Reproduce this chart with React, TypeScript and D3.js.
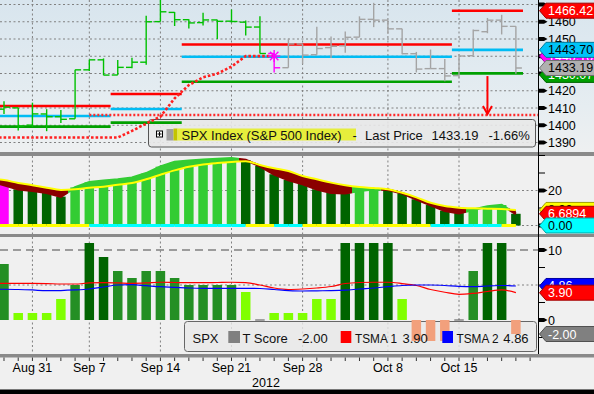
import React from "react";
import * as d3 from "d3";

// ---------------- data ----------------
const dates = ["Aug 28","Aug 29","Aug 30","Aug 31","Sep 4","Sep 5","Sep 6","Sep 7","Sep 10","Sep 11","Sep 12","Sep 13","Sep 14","Sep 17","Sep 18","Sep 19","Sep 20","Sep 21","Sep 24","Sep 25","Sep 26","Sep 27","Sep 28","Oct 1","Oct 2","Oct 3","Oct 4","Oct 5","Oct 8","Oct 9","Oct 10","Oct 11","Oct 12","Oct 15","Oct 16","Oct 17","Oct 18","Oct 19"];
const axisDays = [...dates, "Oct 22"];
const dateLabels = ["Aug 31","Sep 7","Sep 14","Sep 21","Sep 28","Oct 8","Oct 15"];
const yearLabel = "2012";

const priceOpen = [1410.44,1409.32,1410.08,1400.07,1406.54,1404.94,1403.74,1432.12,1437.92,1429.13,1433.56,1436.56,1460.07,1465.42,1461.19,1459.50,1461.05,1460.34,1459.76,1456.94,1441.60,1433.36,1447.13,1440.90,1444.99,1446.05,1451.08,1461.40,1460.93,1455.90,1441.48,1432.82,1432.84,1428.75,1440.31,1454.22,1460.94,1457.34];
const priceHigh = [1416.17,1413.95,1410.08,1413.09,1409.31,1408.81,1432.12,1437.92,1438.74,1437.76,1439.15,1463.46,1474.51,1465.63,1461.47,1465.15,1461.23,1467.07,1460.72,1463.24,1441.60,1450.20,1447.13,1457.14,1451.52,1454.30,1463.14,1470.96,1460.93,1455.90,1442.52,1443.90,1438.43,1441.31,1455.51,1462.20,1464.02,1457.34];
const priceLow = [1409.11,1406.57,1397.01,1398.96,1396.56,1401.25,1403.74,1431.45,1428.98,1429.13,1432.99,1435.13,1460.07,1457.55,1456.13,1457.88,1449.98,1459.51,1452.06,1441.59,1430.53,1433.36,1435.60,1440.90,1439.01,1441.99,1451.08,1456.89,1453.10,1441.18,1430.64,1432.82,1425.53,1427.24,1440.31,1453.35,1452.63,1429.85];
const priceClose = [1409.30,1410.49,1399.48,1406.58,1404.94,1403.44,1432.12,1437.92,1429.08,1433.56,1436.56,1459.99,1465.77,1461.19,1459.32,1461.05,1460.26,1460.15,1456.89,1441.59,1433.32,1447.15,1440.67,1444.49,1445.75,1450.99,1461.40,1460.93,1455.88,1441.48,1432.56,1432.84,1428.59,1440.13,1454.92,1460.91,1457.34,1433.19];

const levelFrom = ["Aug 28","Sep 11","Sep 18","Oct 15"];
const levelTo = ["Sep 10","Sep 17","Oct 12","Oct 19"];
const levelResistance = [1411.2, 1418.1, 1446.8, 1466.42];
const levelPivot = [1405.4, 1409.4, 1439.7, 1443.70];
const levelSupport = [1399.2, 1401.5, 1425.2, 1430.07];

const stopDates = dates.slice(0, 21);
const stopValues = [1392.9,1392.9,1392.9,1392.9,1392.9,1392.9,1392.9,1392.9,1392.9,1392.9,1396.7,1401.0,1405.0,1415.6,1423.3,1427.8,1429.9,1434.0,1440.1,1440.1,1440.1];
const breakLevel = 1405.9;
const breakFrom = "Sep 7";
const arrowDate = "Oct 17";
const arrowTop = 1428.5;
const signalDate = "Sep 26";
const signalValue = 1440.1;
const priceTicks = [1390,1400,1410,1420,1430,1440,1450,1460,1470];
const priceTickLabels = [1390,1400,1410,1420,1450,1460];

const adx = [25.5,23.1,20.7,19.9,18.7,16.5,21.8,24.7,25.6,26.2,27.3,29.8,33.6,36.3,37.0,37.6,38.0,38.4,37.4,34.0,29.3,26.0,23.7,20.7,18.7,18.4,19.9,20.7,20.4,18.4,15.0,11.7,8.5,7.1,9.0,10.8,11.7,6.6894];
const adxSignal = [27.0,26.0,24.3,23.0,21.6,20.3,20.7,21.6,22.2,23.3,24.3,26.4,29.0,31.5,33.6,34.9,35.7,36.3,36.7,34.6,32.7,31.1,28.3,26.4,24.5,23.0,22.0,21.4,20.7,18.7,16.1,13.0,11.1,10.2,9.8,9.6,9.4,8.9];
const diState = [0,0,0,0,0,0,0,0,1,1,1,1,1,1,1,1,1,1,1,0,0,1,1,0,0,0,0,0,0,0,0,0,1,1,1,1,1,0];
const highlightDay = "Aug 29";
const adxMajorTicks = [0, 20];
const adxTickLabels = [20];
const adxMinorTicks = [10, 30, 40];

const tScore = [8,8,1,1,1,3,5,11,9,7,6,7,7,6,5,5,5,5,4,0,1,1,1,3,3,11,11,11,11,3,-3,-3,-3,0,7,11,11,-2];
const tsma1 = [5.24,5.24,5.24,5.24,5.21,5.14,5.14,5.29,5.33,5.29,5.24,5.29,5.39,5.36,5.33,5.33,5.36,5.39,5.33,5.0,4.57,4.36,4.43,4.57,4.79,5.21,5.36,5.39,5.39,5.21,4.93,4.36,3.96,3.67,3.81,4.07,4.29,3.90];
const tsma2 = [4.40,4.39,4.36,4.29,4.19,4.21,4.29,4.43,4.71,5.0,5.04,4.9,4.76,4.67,4.57,4.53,4.53,4.53,4.53,4.5,4.36,4.21,4.14,4.17,4.19,4.26,4.43,4.57,4.76,4.93,5.0,5.0,4.93,4.79,4.76,4.86,4.93,4.86];
const tMajorTicks = [0, 10];
const tMinorTicks = [-2.5, 2.5, 5, 7.5];

// ---------------- styles ----------------
const FONT = "'Liberation Sans', Arial, sans-serif";
const C = {
  barGreen: "#00c000", barGray: "#a4a4a4", magenta: "#ff00ff",
  red: "#ff0000", cyan: "#00bcf4", lvlGreen: "#00a000",
  darkGreen: "#006400", lightGreen: "#33cc33", darkRed: "#8b0000",
  yellow: "#ffff00", aqua: "#00ffff",
  lime: "#80ff00", midGreen: "#248f24", salmon: "#f2a07c",
  grid: "#808080", panel: "#f0f0f0", sep: "#8a8a8a",
};

const f2 = (v: number) => v.toFixed(2);

function Tag({ y, fill, text, color }: { y: number; fill: string; text: string; color: string }) {
  const h = 15;
  const d = `M539.5,${y} L546,${y - h / 2} L600,${y - h / 2} L600,${y + h / 2} L546,${y + h / 2} Z`;
  const stroke = (d3.color(fill) as d3.RGBColor).darker(1.3).formatHex();
  return (
    <g>
      <path d={d} fill={fill} stroke={stroke} strokeWidth={1} />
      <text x={548} y={y} dy="0.36em" fill={color} fontSize={12.5} fontFamily={FONT}>{text}</text>
    </g>
  );
}

function MajorTick({ y }: { y: number }) {
  return <path d={`M539,${y - 2} L544,${y - 2} L547.5,${y} L544,${y + 2} L539,${y + 2} Z`} fill="#000" />;
}
function MinorTick({ y }: { y: number }) {
  return <line x1={539} x2={545} y1={y} y2={y} stroke="#000" strokeWidth={1} />;
}

export default function App() {
  const W = 594, H = 394, R = 538.5;
  const P1 = [0, 152], P2 = [156, 234], P3 = [237, 354];

  const x = d3.scalePoint<string>().domain(axisDays).range([-10.22, 530.1]);
  const step = x.step();
  const xi = (i: number) => x(dates[i]) as number;
  const n = dates.length;

  const yP = d3.scaleLinear().domain([1390, 1470]).range([142.5, 4.5]);
  const yA = d3.scaleLinear().domain([0, 20]).range([225.5, 190.5]);
  const yT = d3.scaleLinear().domain([0, 10]).range([320, 250]);

  const gridX = dateLabels.map((d) => x(d) as number);
  const flipIdx = dates.indexOf(signalDate);
  const priceColor = (i: number) => (i < flipIdx ? C.barGreen : i === flipIdx ? C.magenta : C.barGray);

  const stopLine = d3.line<number>().x((_, i) => x(stopDates[i]) as number).y((v) => yP(v))(stopValues) || "";

  // panel 2
  const rising = adx.map((v, i) => i > 0 && v > adx[i - 1]);
  const bandCols = rising.map((r) => (r ? C.lightGreen : C.darkRed));
  const stops: { o: number; c: string }[] = [{ o: 0, c: bandCols[0] }];
  let cur = bandCols[0];
  for (let i = 1; i < n; i++) {
    if (bandCols[i] !== cur) {
      const p = Math.max(0, Math.min(1, (xi(i) - step / 2) / R));
      stops.push({ o: p, c: cur });
      stops.push({ o: p, c: bandCols[i] });
      cur = bandCols[i];
    }
  }
  stops.push({ o: 1, c: cur });
  const idx = d3.range(n);
  const bandArea = d3.area<number>().x((i) => xi(i)).y0((i) => yA(adxSignal[i])).y1((i) => yA(adx[i]))(idx) || "";
  const adxLine = d3.line<number>().x((i) => xi(i)).y((i) => yA(adx[i]))(idx) || "";
  const sigLine = d3.line<number>().x((i) => xi(i)).y((i) => yA(adxSignal[i])).curve(d3.curveMonotoneX)(idx) || "";
  const hiIdx = dates.indexOf(highlightDay);

  // panel 3
  const tColor = (v: number) => (v < 0 ? C.salmon : v <= 4 ? C.lime : v <= 8 ? C.midGreen : C.darkGreen);
  const tsmaLine = (arr: number[]) => d3.line<number>().x((i) => xi(i)).y((i) => yT(arr[i])).curve(d3.curveMonotoneX)(idx) || "";

  const bw = 9.5;
  const last = n - 1;
  const chg = (priceClose[last] / priceClose[last - 1] - 1) * 100;

  const hGrid = (ys: number[], key: string) =>
    ys.map((y, k) => <line key={key + k} x1={0} x2={R} y1={y} y2={y} stroke={C.grid} strokeWidth={1} strokeDasharray="2,2.5" />);
  const vGrid = (y0: number, y1: number, key: string) =>
    gridX.map((gx, k) => <line key={key + k} x1={gx} x2={gx} y1={y0} y2={y1} stroke={C.grid} strokeWidth={1} strokeDasharray="2,2.5" />);

  const ax = x(arrowDate) as number;

  return (
    <svg width={W} height={H} style={{ position: "fixed", left: 0, top: 0, background: C.panel }} fontFamily={FONT}>
      <defs>
        <linearGradient id="p1bg" x1="0" x2="0" y1="0" y2="1">
          <stop offset="0" stopColor="#d8e5ee" />
          <stop offset="0.7" stopColor="#e6edf1" />
          <stop offset="1" stopColor="#eef0f1" />
        </linearGradient>
        <linearGradient id="band" gradientUnits="userSpaceOnUse" x1={0} x2={R} y1={0} y2={0}>
          {stops.map((s, k) => <stop key={k} offset={s.o} stopColor={s.c} />)}
        </linearGradient>
        <clipPath id="c1"><rect x={0} y={P1[0]} width={R} height={P1[1] - P1[0]} /></clipPath>
        <clipPath id="c2"><rect x={0} y={P2[0]} width={R} height={P2[1] - P2[0]} /></clipPath>
        <clipPath id="c3"><rect x={0} y={P3[0]} width={R} height={P3[1] - P3[0]} /></clipPath>
      </defs>

      <rect x={0} y={0} width={W} height={H} fill={C.panel} />
      <rect x={0} y={P1[0]} width={W} height={P1[1] - P1[0]} fill="url(#p1bg)" />

      {/* ---------- Panel 1 ---------- */}
      <g clipPath="url(#c1)">
        {hGrid(priceTicks.map((v) => yP(v)), "pg")}
        {vGrid(P1[0], P1[1], "pv")}
        <rect x={148.5} y={119.5} width={387} height={27.5} rx={3} fill="#e8e8e8" fillOpacity={0.9} stroke="#555" strokeWidth={1} />
        {levelFrom.map((d, k) => {
          const x0 = (x(d) as number) - step / 2;
          const x1 = (x(levelTo[k]) as number) + step / 2;
          return (
            <g key={"lv" + k}>
              <line x1={x0} x2={x1} y1={yP(levelResistance[k])} y2={yP(levelResistance[k])} stroke={C.red} strokeWidth={2.6} />
              <line x1={x0} x2={x1} y1={yP(levelPivot[k])} y2={yP(levelPivot[k])} stroke={C.cyan} strokeWidth={2.6} />
              <line x1={x0} x2={x1} y1={yP(levelSupport[k])} y2={yP(levelSupport[k])} stroke={C.lvlGreen} strokeWidth={2.6} />
            </g>
          );
        })}
        <line x1={x(breakFrom) as number} x2={R} y1={yP(breakLevel)} y2={yP(breakLevel)} stroke="#ff2a2a" strokeWidth={2.4} strokeDasharray="2,2" />
        <path d={stopLine} fill="none" stroke="#ff2020" strokeWidth={2.6} strokeDasharray="2.6,2" />
        {dates.map((d, i) => {
          const cx = xi(i);
          const col = priceColor(i);
          return (
            <g key={"ohlc" + i} stroke={col} strokeWidth={1.4}>
              <line x1={cx} x2={cx} y1={yP(priceHigh[i])} y2={yP(priceLow[i])} />
              <line x1={cx - 6} x2={cx} y1={yP(priceOpen[i])} y2={yP(priceOpen[i])} />
              <line x1={cx} x2={cx + 6} y1={yP(priceClose[i])} y2={yP(priceClose[i])} />
            </g>
          );
        })}
        <g stroke={C.magenta} strokeWidth={1.4}>
          {[0, 45, 90, 135].map((a) => {
            const cx = x(signalDate) as number, cy = yP(signalValue);
            const r = 6, t = (a * Math.PI) / 180;
            return <line key={a} x1={cx - r * Math.cos(t)} y1={cy - r * Math.sin(t)} x2={cx + r * Math.cos(t)} y2={cy + r * Math.sin(t)} />;
          })}
        </g>
        <g stroke={C.red} strokeWidth={2} fill="none">
          <line x1={ax} x2={ax} y1={yP(arrowTop)} y2={yP(breakLevel) - 1} />
          <polyline points={`${ax - 4.5},${yP(breakLevel) - 9} ${ax},${yP(breakLevel) - 1} ${ax + 4.5},${yP(breakLevel) - 9}`} />
        </g>
        <rect x={156.5} y={131} width={6} height={6} fill="#fff" stroke="#000" strokeWidth={1} />
        <line x1={157.5} x2={161.5} y1={134} y2={134} stroke="#000" strokeWidth={1} />
        <line x1={159.5} x2={159.5} y1={132} y2={136} stroke="#000" strokeWidth={1} />
        <rect x={166.5} y={129} width={7} height={11.5} fill="#a0a0a0" />
        <rect x={173.5} y={128.5} width={4} height={12} fill="#c4c400" />
        <rect x={177.5} y={128.5} width={178.5} height={12} fill="#e6ee3c" />
        <text x={181.5} y={140.3} fontSize={13} fill="#111">SPX Index (S&amp;P 500 Index)</text>
        <text x={352.5} y={140.3} fontSize={13} fill="#111">-</text>
        <text x={365} y={140.3} fontSize={13} fill="#111">Last Price</text>
        <text x={431.5} y={140.3} fontSize={13} fill="#111">{f2(priceClose[last])}</text>
        <text x={488.5} y={140.3} fontSize={13} fill="#111">{f2(chg)}%</text>
      </g>

      {/* ---------- Panel 2 ---------- */}
      <g clipPath="url(#c2)">
        {hGrid([yA(20), yA(0)], "ag")}
        {vGrid(P2[0], P2[1], "av")}
        {adx.map((v, i) => (
          <rect key={"ab" + i} x={xi(i) - bw / 2} width={bw} y={yA(v)} height={yA(0) - yA(v)}
            fill={i === hiIdx ? C.magenta : rising[i] ? C.lightGreen : C.darkGreen} />
        ))}
        <path d={bandArea} fill="url(#band)" />
        <path d={adxLine} fill="none" stroke="url(#band)" strokeWidth={2.6} />
        <path d={sigLine} fill="none" stroke={C.yellow} strokeWidth={2} />
        {diState.map((s, i) =>
          i === 0 ? null : (
            <line key={"di" + i} x1={xi(i - 1)} x2={xi(i)} y1={yA(0)} y2={yA(0)} stroke={s ? C.aqua : C.yellow} strokeWidth={3} />
          )
        )}
      </g>

      {/* ---------- Panel 3 ---------- */}
      <g clipPath="url(#c3)">
        {hGrid([yT(5)], "tg")}
        {vGrid(P3[0], P3[1], "tv")}
        <line x1={0} x2={R} y1={yT(10)} y2={yT(10)} stroke="#808080" strokeWidth={1.4} strokeDasharray="8,5" />
        <rect x={184.5} y={321.5} width={352} height={30} rx={3} fill="#e8e8e8" fillOpacity={0.8} stroke="#666" strokeWidth={1} />
        {tScore.map((v, i) =>
          v === 0 ? (
            <line key={"tb" + i} x1={xi(i) - bw / 2} x2={xi(i) + bw / 2} y1={yT(0)} y2={yT(0)} stroke="#505050" strokeWidth={1} />
          ) : (
            <rect key={"tb" + i} x={xi(i) - bw / 2} width={bw} y={Math.min(yT(v), yT(0))} height={Math.abs(yT(v) - yT(0))} fill={tColor(v)} />
          )
        )}
        <path d={tsmaLine(tsma1)} fill="none" stroke={C.red} strokeWidth={1.2} />
        <path d={tsmaLine(tsma2)} fill="none" stroke="#0000ff" strokeWidth={1.2} />
        <g fontSize={13} fill="#111">
          <text x={192.5} y={343}>SPX</text>
          <rect x={228.3} y={331} width={11.7} height={12} fill="#808080" />
          <text x={242.5} y={343}>T Score</text>
          <text x={298} y={343}>{f2(tScore[last])}</text>
          <rect x={340.7} y={331} width={10.6} height={12} fill={C.red} />
          <text x={355} y={343} textLength={42} lengthAdjust="spacingAndGlyphs">TSMA 1</text>
          <text x={402.5} y={343}>{f2(tsma1[last])}</text>
          <rect x={442.3} y={331} width={10.7} height={12} fill="#0000ff" />
          <text x={456.5} y={343} textLength={42} lengthAdjust="spacingAndGlyphs">TSMA 2</text>
          <text x={503.3} y={343}>{f2(tsma2[last])}</text>
        </g>
      </g>

      {/* separators */}
      <rect x={0} y={152} width={W} height={4} fill={C.sep} />
      <rect x={0} y={234} width={W} height={3} fill={C.sep} />
      <rect x={0} y={354} width={W} height={3.5} fill={C.sep} />

      {/* right axis */}
      <line x1={R} x2={R} y1={0} y2={354} stroke="#000" strokeWidth={1} />
      {priceTicks.map((v) => <MajorTick key={"ptk" + v} y={yP(v)} />)}
      {priceTickLabels.map((v) => (
        <text key={"pt" + v} x={548} y={yP(v)} dy="0.36em" fontSize={12.5} fill="#000">{v}</text>
      ))}
      {adxMinorTicks.map((v) => <MinorTick key={"am" + v} y={yA(v)} />)}
      {adxMajorTicks.map((v) => <MajorTick key={"aM" + v} y={yA(v)} />)}
      {adxTickLabels.map((v) => (
        <text key={"aL" + v} x={548} y={yA(v)} dy="0.36em" fontSize={12.5} fill="#000">{v}</text>
      ))}
      {tMinorTicks.map((v) => <MinorTick key={"tm" + v} y={yT(v)} />)}
      {tMajorTicks.map((v) => (
        <g key={"tM" + v}>
          <MajorTick y={yT(v)} />
          <text x={548} y={yT(v)} dy="0.36em" fontSize={12.5} fill="#000">{v}</text>
        </g>
      ))}

      {/* value tags */}
      <Tag y={yP(signalValue)} fill={C.magenta} text={f2(signalValue)} color="#fff" />
      <Tag y={yP(levelPivot[3])} fill="#00c4f8" text={f2(levelPivot[3])} color="#000" />
      <Tag y={yP(levelSupport[3]) + 1.5} fill={C.lvlGreen} text={f2(levelSupport[3])} color="#fff" />
      <Tag y={yP(priceClose[last])} fill="#b0b0b0" text={f2(priceClose[last])} color="#000" />
      <Tag y={yP(levelResistance[3])} fill={C.red} text={f2(levelResistance[3])} color="#fff" />

      <Tag y={yA(adxSignal[last])} fill={C.yellow} text={f2(adxSignal[last])} color="#000" />
      <Tag y={yA(adx[last])} fill={C.red} text={adx[last].toFixed(4)} color="#fff" />
      <Tag y={yA(0)} fill={C.aqua} text={f2(0)} color="#000" />

      <Tag y={yT(tsma2[last])} fill="#0000ff" text={f2(tsma2[last])} color="#fff" />
      <Tag y={yT(tsma1[last])} fill={C.red} text={f2(tsma1[last])} color="#fff" />
      <Tag y={yT(tScore[last])} fill="#808080" text={f2(tScore[last])} color="#fff" />

      {/* x axis */}
      {axisDays.map((d) => {
        const xx = x(d) as number;
        if (xx < 0 || xx > R) return null;
        return <line key={"xt" + d} x1={xx} x2={xx} y1={357.5} y2={361} stroke="#333" strokeWidth={1} />;
      })}
      {dateLabels.map((d) => (
        <text key={"xl" + d} x={x(d) as number} y={372} textAnchor="middle" fontSize={12.5} fill="#000">{d}</text>
      ))}
      <text x={266} y={386.5} textAnchor="middle" fontSize={12.5} fill="#000">{yearLabel}</text>

      <rect x={0} y={389.5} width={W} height={5} fill="#000" />
    </svg>
  );
}
